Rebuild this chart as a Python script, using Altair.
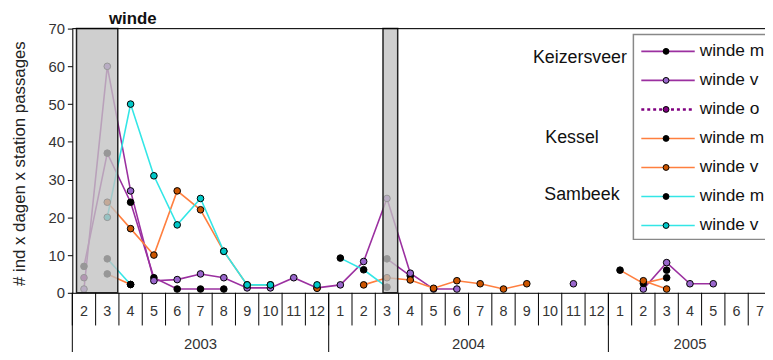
import altair as alt
import pandas as pd

N = None
# ---------------- data ----------------
years = [2003] * 11 + [2004] * 12 + [2005] * 7
months = [2, 3, 4, 5, 6, 7, 8, 9, 10, 11, 12,
          1, 2, 3, 4, 5, 6, 7, 8, 9, 10, 11, 12,
          1, 2, 3, 4, 5, 6, 7]

chart_title = "winde"
series = ["Keizersveer winde m", "Keizersveer winde v", "Keizersveer winde o",
          "Kessel winde m", "Kessel winde v", "Sambeek winde m", "Sambeek winde v"]
legend_labels = ["winde m", "winde v", "winde o", "winde m", "winde v", "winde m", "winde v"]
line_colors = ["#9B30A0", "#9B30A0", "#800080", "#FF7F3F", "#FF7F3F", "#33E6E6", "#33E6E6"]
marker_fills = ["#000000", "#9966CC", "#800080", "#000000", "#CC5500", "#000000", "#00C8C8"]
dash_style = ["solid", "solid", "dot", "solid", "solid", "solid", "solid"]

#            2003: 2   3   4   5    6    7   8   9    10   11   12 | 2004: 1  2    3   4    5  6  7  8  9  10 11   12 | 2005: 1  2    3  4    5    6  7
keiz_m    = [7,  37, 24, 4,   1,   1,  1,  N,   N,   N,   N,   N,   N,   9,  4.5, N, N, N, N, N, N, N,   N,   N,  N,   6, N,   N,   N, N]
keiz_v    = [1,  60, 27, 3.2, 3.5, 5,  4,  1.3, 1.3, 4,   1.3, 2.1, 8.3, 25, 5.2, 1, 1, N, N, N, N, 2.4, N,   N,  1,   8, 2.4, 2.4, N, N]
keiz_o    = [4,  N,  N,  N,   N,   N,  N,  N,   N,   N,   N,   N,   N,   N,  N,   N, N, N, N, N, N, N,   N,   N,  N,   N, N,   N,   N, N]
kessel_m  = [N,  5,  2.2, N,  N,   N,  N,  N,   N,   N,   N,   N,   N,   N,  N,   N, N, N, N, N, N, N,   N,   6,  2.5, 4, N,   N,   N, N]
kessel_v  = [N,  24, 17, 10,  27,  22, 11, 2.1, 2.1, N,   1.2, N,   2.1, 4,  3.4, 1.2, 3.2, 2.4, 1, 2.4, N, N, N, N, 3.2, 1, N,  N,   N, N]
sambeek_m = [N,  9,  2.2, N,  N,   N,  N,  N,   N,   N,   N,   9.2, 6.1, 1.5, N,  N, N, N, N, N, N, N,   N,   N,  N,   N, N,   N,   N, N]
sambeek_v = [N,  20, 50, 31,  18,  25, 11, 2.1, 2.1, N,   2.1, N,   N,   N,  N,   N, N, N, N, N, N, N,   N,   N,  N,   N, N,   N,   N, N]
values = [keiz_m, keiz_v, keiz_o, kessel_m, kessel_v, sambeek_m, sambeek_v]

# grey "no data" periods, in month-index units
band_start = [0.18, 13.33]
band_end = [1.95, 13.96]

stations = ["Keizersveer", "Kessel", "Sambeek"]

# ---------------- layout ----------------
W, H = 700, 267
FONT = "Liberation Sans"
XMAX = 29.72
station_px = [513, 505, 515]
station_py = [30, 111, 168]

rows = []
for s, name in enumerate(series):
    seg = 0
    for i, v in enumerate(values[s]):
        if v is None:
            seg += 1
            continue
        rows.append(dict(series=name, key=f"{s}-{seg}", pos=i + 0.5, value=v,
                         lc=line_colors[s], pf=marker_fills[s], dash=dash_style[s], s=s))
df = pd.DataFrame(rows)

xs = alt.Scale(domain=[0, XMAX], nice=False, zero=False)
ys = alt.Scale(domain=[0, 70], nice=False, zero=True)
X = alt.X("pos:Q", scale=xs, axis=None)
Y = alt.Y("value:Q", scale=ys, axis=None)

lines_solid = alt.Chart(df).transform_filter(alt.datum.dash == "solid").mark_line(strokeWidth=1.6).encode(
    x=alt.X("pos:Q", scale=xs, axis=alt.Axis(domain=True, domainColor="black", ticks=False,
                                             labels=False, grid=False, title=None)),
    y=alt.Y("value:Q", scale=ys, axis=alt.Axis(
        values=list(range(0, 71, 10)), grid=False, domainColor="black", tickColor="black",
        tickSize=5, labelFontSize=15, labelFont=FONT, labelColor="#333", labelPadding=3,
        title="# ind x dagen x station passages", titleFont=FONT, titleFontSize=17,
        titleFontWeight="normal", titleColor="#222", titleX=-53, titleY=136, titleBaseline="middle")),
    color=alt.Color("lc:N", scale=None),
    detail="key:N",
)
lines_dot = alt.Chart(df).transform_filter(alt.datum.dash == "dot").mark_line(
    strokeWidth=2, strokeDash=[2, 2]).encode(x=X, y=Y, color=alt.Color("lc:N", scale=None), detail="key:N")

points = alt.Chart(df).mark_point(shape="circle", filled=True, size=45, stroke="black",
                                  strokeWidth=1, opacity=1).encode(
    x=X, y=Y, fill=alt.Fill("pf:N", scale=None), order=alt.Order("s:Q"))

bands = alt.Chart(pd.DataFrame({"b0": band_start, "b1": band_end})).mark_rect(
    fill="#c2c2c2", fillOpacity=0.78, stroke="#222", strokeWidth=1.5).encode(
    x=alt.X("b0:Q", scale=xs, axis=None), x2="b1:Q", y=alt.value(0), y2=alt.value(H))

top_border = alt.Chart(pd.DataFrame({"a": [0]})).mark_rule(color="black", strokeWidth=1).encode(
    x=alt.value(0), x2=alt.value(W), y=alt.value(0))

title_txt = alt.Chart(pd.DataFrame({"t": [chart_title]})).mark_text(
    font=FONT, fontSize=17, fontWeight="bold", align="left", baseline="alphabetic", color="#111").encode(
    x=alt.value(37), y=alt.value(-5), text="t:N")

# category axis (two levels)
dm = pd.DataFrame({"pos": [i + 0.5 for i in range(len(months))], "label": [str(m) for m in months],
                   "b": list(range(len(months)))})
month_ticks = alt.Chart(dm).mark_rule(color="black", strokeWidth=1).encode(
    x=alt.X("b:Q", scale=xs, axis=None), y=alt.value(H), y2=alt.value(H + 33))
month_labels = alt.Chart(dm).mark_text(font=FONT, fontSize=14.5, color="#333", baseline="middle").encode(
    x=alt.X("pos:Q", scale=xs, axis=None), y=alt.value(H + 19), text="label:N")

yr_names, yr_start, yr_end = [], [], []
for i, yv in enumerate(years):
    if not yr_names or yr_names[-1] != str(yv):
        yr_names.append(str(yv)); yr_start.append(i); yr_end.append(i + 1)
    else:
        yr_end[-1] = i + 1
dy = pd.DataFrame({"year": yr_names, "start": yr_start,
                   "center": [(a + b) / 2 for a, b in zip(yr_start, yr_end)]})
year_lines = alt.Chart(dy).mark_rule(color="black", strokeWidth=1).encode(
    x=alt.X("start:Q", scale=xs, axis=None), y=alt.value(H), y2=alt.value(H + 60))
year_labels = alt.Chart(dy).mark_text(font=FONT, fontSize=15, color="#333", baseline="middle").encode(
    x=alt.X("center:Q", scale=xs, axis=None), y=alt.value(H + 52), text="year:N")

# legend (built by hand, clipped at the right edge like the original)
dl = pd.DataFrame({"row": list(range(len(series))), "label": legend_labels, "lc": line_colors,
                   "pf": marker_fills, "dash": dash_style})
ly = alt.Y("row:Q", scale=alt.Scale(domain=[0, 6], range=[23, 199]), axis=None)
leg_box = alt.Chart(pd.DataFrame({"a": [0]})).mark_rect(fill="white", stroke="#888", strokeWidth=1.5).encode(
    x=alt.value(567), x2=alt.value(760), y=alt.value(6), y2=alt.value(213))
leg_line = alt.Chart(dl).transform_filter(alt.datum.dash == "solid").mark_rule(strokeWidth=1.6).encode(
    x=alt.value(575), x2=alt.value(629), y=ly, color=alt.Color("lc:N", scale=None))
leg_dot = alt.Chart(dl).transform_filter(alt.datum.dash == "dot").mark_rule(strokeWidth=2.5, strokeDash=[3, 3]).encode(
    x=alt.value(575), x2=alt.value(629), y=ly, color=alt.Color("lc:N", scale=None))
leg_pt = alt.Chart(dl).mark_point(shape="circle", filled=True, size=35, stroke="black", strokeWidth=1, opacity=1).encode(
    x=alt.value(600), y=ly, fill=alt.Fill("pf:N", scale=None))
leg_txt = alt.Chart(dl).mark_text(font=FONT, fontSize=17.5, align="left", baseline="middle", color="#111").encode(
    x=alt.value(634), y=ly, text="label:N")

dst = pd.DataFrame({"name": stations, "px": station_px, "py": station_py})
st_txt = alt.Chart(dst).mark_text(font=FONT, fontSize=18, align="center", baseline="middle", color="#111").encode(
    x=alt.X("px:Q", scale=None, axis=None), y=alt.Y("py:Q", scale=None, axis=None), text="name:N")

chart = alt.layer(
    lines_solid, lines_dot, points, bands, top_border, title_txt,
    month_ticks, month_labels, year_lines, year_labels,
    leg_box, leg_line, leg_dot, leg_pt, leg_txt, st_txt,
).resolve_scale(x="independent", y="independent").properties(
    width=W, height=H,
    padding={"left": 65, "top": 19, "right": 0, "bottom": 58},
    autosize=alt.AutoSizeParams(type="none"),
).configure_view(stroke="transparent").configure(background="white")

chart.save("out.html", embed_options={"renderer": "svg", "actions": False})
